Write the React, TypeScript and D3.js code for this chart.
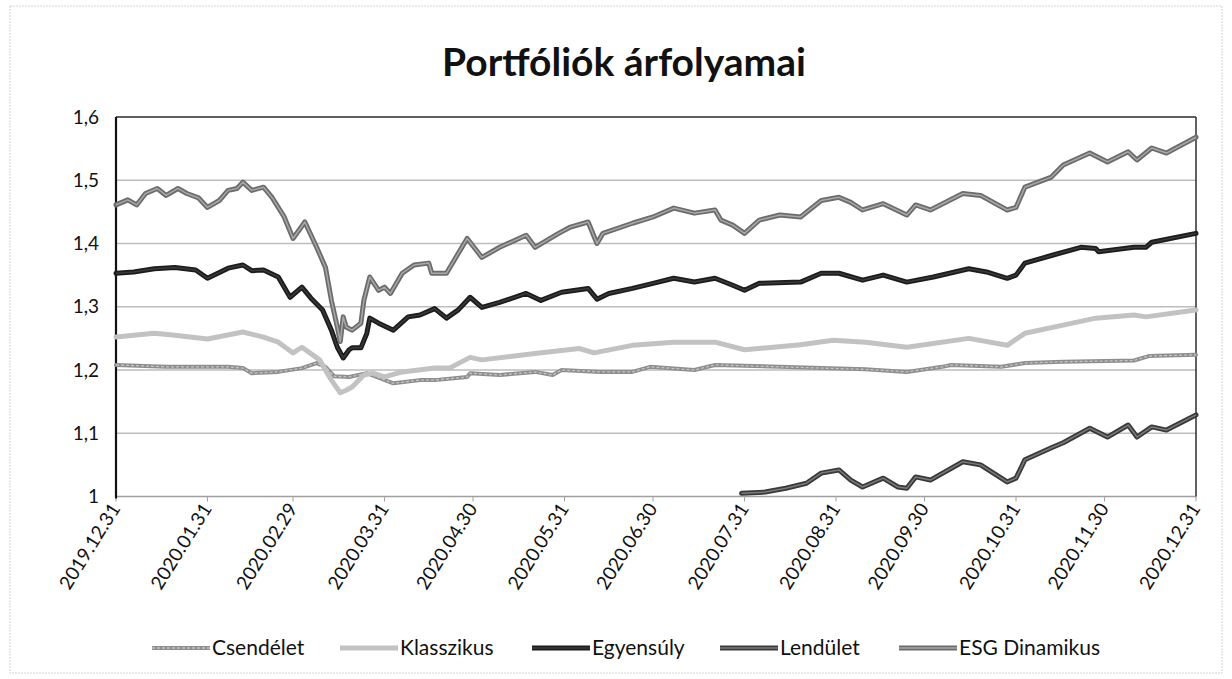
import React from "react";
import * as d3 from "d3";

const TITLE = "Portfóliók árfolyamai";

const yTicks = [1, 1.1, 1.2, 1.3, 1.4, 1.5, 1.6];
const xTickDates = [
  "2019-12-31", "2020-01-31", "2020-02-29", "2020-03-31", "2020-04-30", "2020-05-31",
  "2020-06-30", "2020-07-31", "2020-08-31", "2020-09-30", "2020-10-31", "2020-11-30", "2020-12-31",
];

const csendeletData: [string, number][] = [
  ["2019-12-31", 1.208], ["2020-01-17", 1.205], ["2020-02-07", 1.205], ["2020-02-12", 1.203],
  ["2020-02-15", 1.195], ["2020-02-24", 1.197], ["2020-03-03", 1.203], ["2020-03-08", 1.211],
  ["2020-03-11", 1.205], ["2020-03-14", 1.19], ["2020-03-19", 1.189], ["2020-03-25", 1.195],
  ["2020-04-03", 1.179], ["2020-04-12", 1.184], ["2020-04-17", 1.184], ["2020-04-28", 1.189],
  ["2020-04-29", 1.195], ["2020-05-09", 1.192], ["2020-05-21", 1.197], ["2020-05-27", 1.192],
  ["2020-05-30", 1.2], ["2020-06-12", 1.197], ["2020-06-23", 1.197], ["2020-06-29", 1.205],
  ["2020-07-14", 1.2], ["2020-07-21", 1.208], ["2020-08-12", 1.205], ["2020-08-26", 1.203],
  ["2020-09-10", 1.201], ["2020-09-24", 1.197], ["2020-10-06", 1.205], ["2020-10-09", 1.208],
  ["2020-10-26", 1.205], ["2020-11-03", 1.211], ["2020-11-16", 1.213], ["2020-12-10", 1.215],
  ["2020-12-15", 1.222], ["2020-12-31", 1.224],
];

const klasszikusData: [string, number][] = [
  ["2019-12-31", 1.252], ["2020-01-13", 1.258], ["2020-01-20", 1.255], ["2020-01-31", 1.249],
  ["2020-02-12", 1.26], ["2020-02-19", 1.252], ["2020-02-24", 1.244], ["2020-02-29", 1.227],
  ["2020-03-03", 1.236], ["2020-03-09", 1.216], ["2020-03-13", 1.184], ["2020-03-16", 1.164],
  ["2020-03-18", 1.168], ["2020-03-20", 1.173], ["2020-03-24", 1.192], ["2020-03-27", 1.195],
  ["2020-03-31", 1.189], ["2020-04-06", 1.197], ["2020-04-17", 1.203], ["2020-04-22", 1.203],
  ["2020-04-29", 1.22], ["2020-05-03", 1.216], ["2020-05-21", 1.226], ["2020-06-05", 1.234],
  ["2020-06-10", 1.227], ["2020-06-23", 1.239], ["2020-07-07", 1.244], ["2020-07-21", 1.244],
  ["2020-07-31", 1.232], ["2020-08-19", 1.24], ["2020-08-30", 1.247], ["2020-09-10", 1.244],
  ["2020-09-24", 1.236], ["2020-10-15", 1.25], ["2020-10-28", 1.239], ["2020-11-03", 1.258],
  ["2020-11-16", 1.271], ["2020-11-27", 1.282], ["2020-12-10", 1.287], ["2020-12-14", 1.284],
  ["2020-12-31", 1.295],
];

const egyensulyData: [string, number][] = [
  ["2019-12-31", 1.353], ["2020-01-06", 1.355], ["2020-01-13", 1.36], ["2020-01-20", 1.362],
  ["2020-01-27", 1.358], ["2020-01-31", 1.345], ["2020-02-07", 1.361], ["2020-02-12", 1.366],
  ["2020-02-15", 1.357], ["2020-02-19", 1.358], ["2020-02-24", 1.347], ["2020-02-28", 1.315],
  ["2020-03-03", 1.331], ["2020-03-06", 1.314], ["2020-03-10", 1.295], ["2020-03-13", 1.263],
  ["2020-03-15", 1.236], ["2020-03-17", 1.219], ["2020-03-19", 1.232], ["2020-03-20", 1.235],
  ["2020-03-23", 1.235], ["2020-03-25", 1.258], ["2020-03-26", 1.282], ["2020-03-29", 1.274],
  ["2020-04-03", 1.263], ["2020-04-08", 1.284], ["2020-04-12", 1.287], ["2020-04-17", 1.297],
  ["2020-04-21", 1.282], ["2020-04-25", 1.295], ["2020-04-29", 1.315], ["2020-05-03", 1.299],
  ["2020-05-09", 1.307], ["2020-05-18", 1.321], ["2020-05-23", 1.31], ["2020-05-30", 1.323],
  ["2020-06-08", 1.329], ["2020-06-11", 1.312], ["2020-06-15", 1.321], ["2020-06-23", 1.329],
  ["2020-06-30", 1.337], ["2020-07-07", 1.345], ["2020-07-14", 1.339], ["2020-07-21", 1.345],
  ["2020-07-27", 1.334], ["2020-07-31", 1.326], ["2020-08-05", 1.337], ["2020-08-19", 1.339],
  ["2020-08-26", 1.353], ["2020-09-01", 1.353], ["2020-09-09", 1.342], ["2020-09-16", 1.35],
  ["2020-09-24", 1.339], ["2020-10-03", 1.347], ["2020-10-15", 1.36], ["2020-10-21", 1.355],
  ["2020-10-28", 1.345], ["2020-10-31", 1.35], ["2020-11-03", 1.369], ["2020-11-12", 1.381],
  ["2020-11-22", 1.394], ["2020-11-27", 1.392], ["2020-11-28", 1.387], ["2020-12-10", 1.394],
  ["2020-12-14", 1.394], ["2020-12-16", 1.402], ["2020-12-31", 1.416],
];

const lenduletData: [string, number][] = [
  ["2020-07-30", 1.005], ["2020-08-07", 1.007], ["2020-08-14", 1.013], ["2020-08-21", 1.021],
  ["2020-08-26", 1.037], ["2020-09-01", 1.042], ["2020-09-05", 1.026], ["2020-09-09", 1.015],
  ["2020-09-16", 1.029], ["2020-09-21", 1.015], ["2020-09-24", 1.013], ["2020-09-27", 1.031],
  ["2020-10-02", 1.026], ["2020-10-13", 1.055], ["2020-10-19", 1.05], ["2020-10-28", 1.023],
  ["2020-10-31", 1.029], ["2020-11-03", 1.058], ["2020-11-12", 1.077], ["2020-11-16", 1.085],
  ["2020-11-25", 1.108], ["2020-12-01", 1.094], ["2020-12-08", 1.113], ["2020-12-11", 1.094],
  ["2020-12-16", 1.11], ["2020-12-21", 1.105], ["2020-12-31", 1.129],
];

const esgData: [string, number][] = [
  ["2019-12-31", 1.461], ["2020-01-04", 1.469], ["2020-01-07", 1.461], ["2020-01-10", 1.479],
  ["2020-01-14", 1.487], ["2020-01-17", 1.476], ["2020-01-21", 1.487], ["2020-01-24", 1.479],
  ["2020-01-28", 1.472], ["2020-01-31", 1.457], ["2020-02-04", 1.468], ["2020-02-07", 1.484],
  ["2020-02-10", 1.487], ["2020-02-12", 1.497], ["2020-02-15", 1.484], ["2020-02-19", 1.489],
  ["2020-02-22", 1.472], ["2020-02-26", 1.442], ["2020-02-29", 1.408], ["2020-03-04", 1.434],
  ["2020-03-08", 1.394], ["2020-03-11", 1.362], ["2020-03-13", 1.31], ["2020-03-15", 1.268],
  ["2020-03-16", 1.245], ["2020-03-17", 1.284], ["2020-03-18", 1.268], ["2020-03-20", 1.263],
  ["2020-03-23", 1.274], ["2020-03-24", 1.31], ["2020-03-26", 1.347], ["2020-03-29", 1.326],
  ["2020-03-31", 1.331], ["2020-04-02", 1.321], ["2020-04-06", 1.353], ["2020-04-10", 1.366],
  ["2020-04-15", 1.369], ["2020-04-16", 1.353], ["2020-04-21", 1.353], ["2020-04-28", 1.408],
  ["2020-05-03", 1.378], ["2020-05-09", 1.394], ["2020-05-18", 1.413], ["2020-05-21", 1.394],
  ["2020-05-29", 1.416], ["2020-06-02", 1.426], ["2020-06-08", 1.434], ["2020-06-11", 1.4],
  ["2020-06-13", 1.416], ["2020-06-23", 1.432], ["2020-06-30", 1.442], ["2020-07-07", 1.456],
  ["2020-07-14", 1.448], ["2020-07-21", 1.453], ["2020-07-23", 1.437], ["2020-07-27", 1.429],
  ["2020-07-31", 1.416], ["2020-08-05", 1.437], ["2020-08-12", 1.445], ["2020-08-19", 1.442],
  ["2020-08-26", 1.468], ["2020-09-01", 1.473], ["2020-09-05", 1.465], ["2020-09-09", 1.453],
  ["2020-09-16", 1.463], ["2020-09-24", 1.445], ["2020-09-27", 1.461], ["2020-10-02", 1.453],
  ["2020-10-13", 1.479], ["2020-10-19", 1.476], ["2020-10-28", 1.453], ["2020-10-31", 1.457],
  ["2020-11-03", 1.489], ["2020-11-12", 1.505], ["2020-11-16", 1.524], ["2020-11-25", 1.543],
  ["2020-12-01", 1.529], ["2020-12-08", 1.545], ["2020-12-11", 1.532], ["2020-12-16", 1.551],
  ["2020-12-21", 1.543], ["2020-12-31", 1.568],
];

const seriesNames = ["Csendélet", "Klasszikus", "Egyensúly", "Lendület", "ESG Dinamikus"];

type Style = { outer: string; outerW: number; inner?: string; innerW?: number; dash?: string };
const seriesStyles: Style[] = [
  { outer: "#8e8e8e", outerW: 4, inner: "#c4c4c4", innerW: 1.3, dash: "3 2" },
  { outer: "#c2c2c2", outerW: 5 },
  { outer: "#1c1c1c", outerW: 5, inner: "#3a3a3a", innerW: 1.5 },
  { outer: "#3a3a3a", outerW: 5, inner: "#7a7a7a", innerW: 1.5 },
  { outer: "#6c6c6c", outerW: 5, inner: "#a8a8a8", innerW: 1.5 },
];
const seriesData = [csendeletData, klasszikusData, egyensulyData, lenduletData, esgData];

const FONT = "Lato, 'Open Sans', sans-serif";

export default function App() {
  const W = 1232, H = 679;
  const left = 116, right = 1196, top = 117, bottom = 496.5;
  const parse = d3.timeParse("%Y-%m-%d");
  const x = d3.scaleTime()
    .domain([parse("2019-12-31") as Date, parse("2020-12-31") as Date])
    .range([left, right]);
  const y = d3.scaleLinear().domain([1, 1.6]).range([bottom, top]);
  const fmtX = d3.timeFormat("%Y.%m.%d");
  const fmtY = (v: number) => (v === 1 ? "1" : v.toFixed(1).replace(".", ","));

  const line = d3.line<[string, number]>()
    .x((d) => x(parse(d[0]) as Date))
    .y((d) => y(d[1]));

  const legendX = [152, 340, 532, 720, 899];
  const legendY = 648;

  return (
    <svg width={W} height={H} style={{ position: "fixed", left: 0, top: 0, background: "#fff" }}
      fontFamily={FONT}>
      <rect x={0} y={0} width={W} height={H} fill="#fff" />
      <rect x={10} y={6} width={1212} height={667} fill="none" stroke="#d4d4d4" strokeWidth={1} strokeDasharray="2 1" />
      <text x={624} y={76} textAnchor="middle" fontSize={39} fontWeight="bold" fill="#111">{TITLE}</text>

      {yTicks.filter((v) => v > 1 && v < 1.6).map((v) => (
        <line key={v} x1={left} x2={right} y1={y(v)} y2={y(v)} stroke="#bdbdbd" strokeWidth={1.3} />
      ))}
      <line x1={left} x2={right} y1={bottom} y2={bottom} stroke="#a0a0a0" strokeWidth={1.3} />
      {xTickDates.map((t) => (
        <line key={t} x1={x(parse(t) as Date)} x2={x(parse(t) as Date)} y1={bottom} y2={bottom + 5} stroke="#a0a0a0" strokeWidth={1} />
      ))}
      <line x1={left} x2={right} y1={top} y2={top} stroke="#2a2a2a" strokeWidth={1.6} />
      <line x1={right} x2={right} y1={top} y2={bottom} stroke="#3a3a3a" strokeWidth={1.6} />
      <line x1={left} x2={left} y1={top} y2={bottom + 2} stroke="#111" strokeWidth={2.2} />

      {yTicks.map((v) => (
        <text key={v} x={99} y={y(v)} dy="0.35em" textAnchor="end" fontSize={19} fill="#111">{fmtY(v)}</text>
      ))}

      {xTickDates.map((t) => {
        const px = x(parse(t) as Date);
        return (
          <text key={t} transform={`translate(${px + 5},${bottom + 12}) rotate(-58)`} textAnchor="end"
            fontSize={19} fill="#111">{fmtX(parse(t) as Date)}</text>
        );
      })}

      {seriesData.map((data, i) => {
        const s = seriesStyles[i];
        const dPath = line(data) || "";
        return (
          <g key={seriesNames[i]}>
            <path d={dPath} fill="none" stroke={s.outer} strokeWidth={s.outerW} strokeLinejoin="round" strokeLinecap="round" />
            {s.inner && (
              <path d={dPath} fill="none" stroke={s.inner} strokeWidth={s.innerW} strokeDasharray={s.dash} strokeLinejoin="round" />
            )}
          </g>
        );
      })}

      {seriesNames.map((name, i) => {
        const s = seriesStyles[i];
        const lx = legendX[i];
        return (
          <g key={name}>
            <line x1={lx} x2={lx + 58} y1={legendY} y2={legendY} stroke={s.outer} strokeWidth={s.outerW} />
            {s.inner && (
              <line x1={lx} x2={lx + 58} y1={legendY} y2={legendY} stroke={s.inner} strokeWidth={s.innerW} strokeDasharray={s.dash} />
            )}
            <text x={lx + 60} y={legendY} dy="0.35em" fontSize={21} fill="#111">{name}</text>
          </g>
        );
      })}
    </svg>
  );
}
